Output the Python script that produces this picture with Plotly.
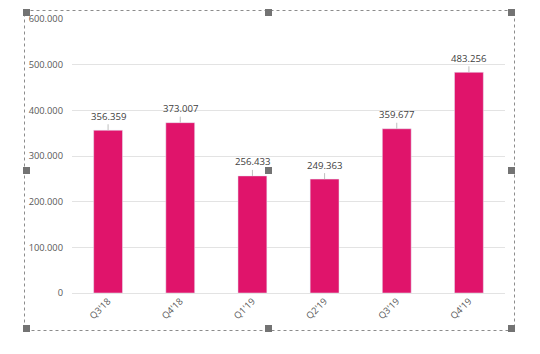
import plotly.graph_objects as go

categories = ["Q3'18", "Q4'18", "Q1'19", "Q2'19", "Q3'19", "Q4'19"]
values = [356359, 373007, 256433, 249363, 359677, 483256]
y_ticks = [0, 100000, 200000, 300000, 400000, 500000, 600000]

W, H = 540, 354
ML, MR, MT, MB = 72, 35, 19, 61
PW, PH = W - ML - MR, H - MT - MB

def px(x):
    return (x - ML) / PW

def py(y):
    return (H - MB - y) / PH

BAR = "#E0146B"
fig = go.Figure(go.Bar(x=categories, y=values, marker_color=BAR, width=0.4,
                       hoverinfo="skip"))

def fmt(v):
    return f"{v:,}".replace(",", ".")

for c, v in zip(categories, values):
    fig.add_annotation(x=c, y=v, text=fmt(v), showarrow=True, arrowhead=0,
                       arrowwidth=1, arrowcolor="#bfbfbf", ax=0, ay=-14,
                       font=dict(family="Open Sans", size=9.6, color="#404040"))

shapes = [dict(type="rect", xref="paper", yref="paper",
               x0=px(24.5), x1=px(514.5), y0=py(10.5), y1=py(330.5),
               line=dict(color="#8c8c8c", width=1, dash="dot"), layer="above")]
for hx in (23, 265, 508):
    for hy in (9, 167, 325):
        shapes.append(dict(type="rect", xref="paper", yref="paper",
                           x0=px(hx), x1=px(hx + 7), y0=py(hy), y1=py(hy + 7),
                           fillcolor="#737373", line=dict(width=0), layer="above"))

fig.update_layout(
    width=W, height=H, margin=dict(l=ML, r=MR, t=MT, b=MB),
    paper_bgcolor="white", plot_bgcolor="white", showlegend=False,
    separators=",.", bargap=0.6, shapes=shapes,
    font=dict(family="Open Sans", size=9.3, color="#595959"),
)
fig.update_xaxes(tickangle=-45, showgrid=False, showline=False, ticks="",
                 tickfont=dict(size=9.3, color="#595959"), fixedrange=True)
fig.update_yaxes(range=[0, 600000], tickvals=y_ticks, tickformat=",d",
                 showgrid=True, gridcolor="#e3e3e3", gridwidth=1, zeroline=True,
                 zerolinecolor="#e3e3e3", zerolinewidth=1, showline=False, ticks="",
                 ticklabelstandoff=8, tickfont=dict(size=9.3, color="#595959"),
                 fixedrange=True)

fig.write_html("out.html")
